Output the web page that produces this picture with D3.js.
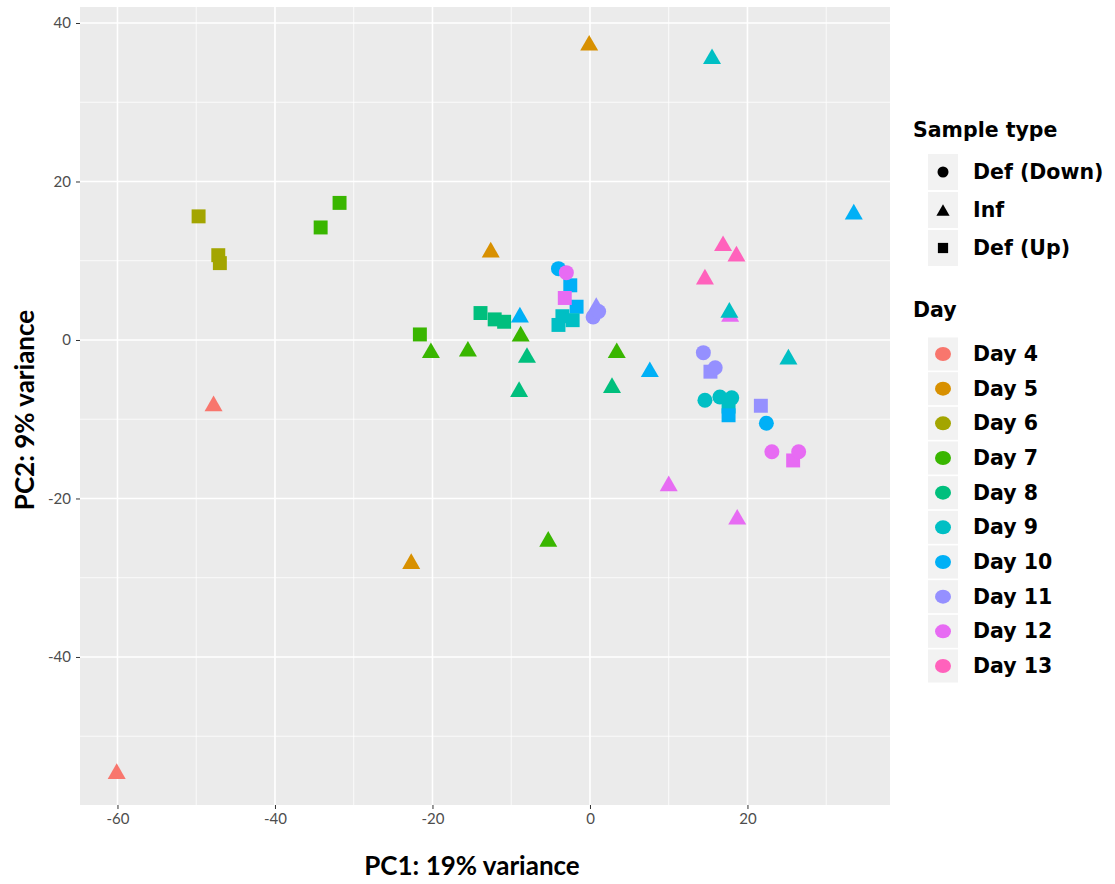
<!DOCTYPE html>
<html lang="en">
<head>
    <meta charset="UTF-8">
    <title>PCA</title>
    <script src="https://cdnjs.cloudflare.com/ajax/libs/d3/7.8.5/d3.min.js"></script>
    <style>
        body {
            margin: 0;
            background: #fff;
        }

        svg .panel {
            fill: #ebebeb;
        }

        svg .grid-major {
            stroke: #fff;
            stroke-width: 1.6px;
        }

        svg .grid-minor {
            stroke: #fff;
            stroke-width: 0.8px;
        }

        svg .axis text {
            font-family: Lato, sans-serif;
            font-size: 15px;
            fill: #4d4d4d;
        }

        svg .axis line {
            stroke: #333;
        }

        svg .axis-title {
            font-family: Lato, sans-serif;
            font-weight: bold;
            font-size: 26px;
            fill: #000;
        }

        svg .legend-title,
        svg .legend-label {
            font-family: "DejaVu Sans", sans-serif;
            font-weight: bold;
            font-size: 20.5px;
            fill: #000;
        }

        svg .legend-key {
            fill: #f2f2f2;
        }
    </style>
</head>
<body>
    <svg width="1115" height="884"></svg>
    <script>
        // PCA scores, one entry per sample
        var pc1 = [17.8, -60.1, -47.8, -0.1, -12.6, -22.7, -49.7, -47.2, -47.0, -31.8, -34.2, -21.6, -20.2, -15.5,
                   -8.8, 3.4, -5.3, -13.9, -12.1, -10.9, -8.0, -9.0, 2.8, 15.5, 17.7, 25.2,
                   14.6, 16.5, 18.0, 17.6, 33.5, -8.9, 7.6, -4.0, -2.5, -1.7, 17.6, 22.4,
                   0.8, 0.4, 1.1, 14.4, 15.3, 15.9, 21.7, -3.0, -3.2, -3.5, -2.2, -4.0, 10.0, 18.7,
                   23.1, 25.8, 26.5, 16.9, 18.6, 14.6];
        var pc2 = [3.3, -54.4, -8.0, 37.5, 11.4, -27.9, 15.6, 10.7, 9.7, 17.3, 14.2, 0.7, -1.3, -1.1,
                   0.8, -1.3, -25.1, 3.4, 2.6, 2.3, -1.9, -6.2, -5.7, 35.8, 3.8, -2.1,
                   -7.6, -7.2, -7.3, -8.4, 16.2, 3.2, -3.7, 9.0, 6.9, 4.2, -9.5, -10.5,
                   4.4, 2.9, 3.6, -1.6, -4.0, -3.5, -8.3, 8.5, 5.3, 3.0, 2.5, 1.9, -18.1, -22.3,
                   -14.1, -15.2, -14.1, 12.2, 10.9, 8.0];
        var day = [12, 4, 4, 5, 5, 5, 6, 6, 6, 7, 7, 7, 7, 7,
                   7, 7, 7, 8, 8, 8, 8, 8, 8, 9, 9, 9,
                   9, 9, 9, 9, 10, 10, 10, 10, 10, 10, 10, 10,
                   11, 11, 11, 11, 11, 11, 11, 12, 12, 9, 9, 9, 12, 12,
                   12, 12, 12, 13, 13, 13];
        var sampleType = ['Inf', 'Inf', 'Inf', 'Inf', 'Inf', 'Inf', 'Def (Up)', 'Def (Up)', 'Def (Up)', 'Def (Up)', 'Def (Up)', 'Def (Up)', 'Inf', 'Inf',
                   'Inf', 'Inf', 'Inf', 'Def (Up)', 'Def (Up)', 'Def (Up)', 'Inf', 'Inf', 'Inf', 'Inf', 'Inf', 'Inf',
                   'Def (Down)', 'Def (Down)', 'Def (Down)', 'Def (Up)', 'Inf', 'Inf', 'Inf', 'Def (Down)', 'Def (Up)', 'Def (Up)', 'Def (Up)', 'Def (Down)',
                   'Inf', 'Def (Down)', 'Def (Down)', 'Def (Down)', 'Def (Up)', 'Def (Down)', 'Def (Up)', 'Def (Down)', 'Def (Up)', 'Def (Up)', 'Def (Up)', 'Def (Up)', 'Inf', 'Inf',
                   'Def (Down)', 'Def (Up)', 'Def (Down)', 'Inf', 'Inf', 'Inf'];

        var typeLevels = ['Def (Down)', 'Inf', 'Def (Up)'];
        var dayLevels = [4, 5, 6, 7, 8, 9, 10, 11, 12, 13];
        var dayColors = ['#F8766D', '#D89000', '#A3A500', '#39B600', '#00BF7D', '#00BFC4', '#00B0F6', '#9590FF', '#E76BF3', '#FF62BC'];
        var majorTicks = [-60, -40, -20, 0, 20, 40];
        var minorTicks = [-70, -50, -30, -10, 10, 30, 50];

        var svg = d3.select('svg'),
            pLeft = 80, pRight = 890, pTop = 7, pBottom = 805;

        var x = d3.scaleLinear().domain([-64.76, 38.1]).range([pLeft, pRight]),
            y = d3.scaleLinear().domain([-58.68, 42.02]).range([pBottom, pTop]),
            color = d3.scaleOrdinal().domain(dayLevels).range(dayColors);

        svg.append('rect')
            .classed('panel', true)
            .attr('x', pLeft)
            .attr('y', pTop)
            .attr('width', pRight - pLeft)
            .attr('height', pBottom - pTop);

        var xIn = function(v) { return x(v) > pLeft && x(v) < pRight; },
            yIn = function(v) { return y(v) > pTop && y(v) < pBottom; };

        svg.selectAll('.gx-minor').data(minorTicks.filter(xIn)).enter().append('line')
            .classed('grid-minor', true)
            .attr('x1', d => x(d)).attr('x2', d => x(d))
            .attr('y1', pTop).attr('y2', pBottom);
        svg.selectAll('.gy-minor').data(minorTicks.filter(yIn)).enter().append('line')
            .classed('grid-minor', true)
            .attr('y1', d => y(d)).attr('y2', d => y(d))
            .attr('x1', pLeft).attr('x2', pRight);
        svg.selectAll('.gx-major').data(majorTicks.filter(xIn)).enter().append('line')
            .classed('grid-major', true)
            .attr('x1', d => x(d)).attr('x2', d => x(d))
            .attr('y1', pTop).attr('y2', pBottom);
        svg.selectAll('.gy-major').data(majorTicks.filter(yIn)).enter().append('line')
            .classed('grid-major', true)
            .attr('y1', d => y(d)).attr('y2', d => y(d))
            .attr('x1', pLeft).attr('x2', pRight);

        // axes
        svg.append('g')
            .classed('axis', true)
            .attr('transform', 'translate(0,' + pBottom + ')')
            .call(d3.axisBottom(x).tickValues(majorTicks.filter(xIn)).tickSize(4).tickPadding(4)
                .tickFormat(d => String(d)));
        svg.append('g')
            .classed('axis', true)
            .attr('transform', 'translate(' + pLeft + ',0)')
            .call(d3.axisLeft(y).tickValues(majorTicks.filter(yIn)).tickSize(4).tickPadding(5)
                .tickFormat(d => String(d)));
        svg.selectAll('.axis .domain').remove();

        svg.append('text')
            .classed('axis-title', true)
            .attr('x', 472)
            .attr('y', 875)
            .attr('text-anchor', 'middle')
            .text('PC1: 19% variance');

        svg.append('text')
            .classed('axis-title', true)
            .attr('transform', 'translate(34,410) rotate(-90)')
            .attr('text-anchor', 'middle')
            .text('PC2: 9% variance');

        // marker shapes
        function shapePath(type, s) {
            if (type === 'Inf') {
                var w = s * 1.2, h = s * 1.04;
                return 'M0,' + (-h / 2) + 'L' + (w / 2) + ',' + (h / 2) + 'L' + (-w / 2) + ',' + (h / 2) + 'Z';
            }
            if (type === 'Def (Up)') {
                var a = s * 0.93 / 2;
                return 'M' + (-a) + ',' + (-a) + 'H' + a + 'V' + a + 'H' + (-a) + 'Z';
            }
            var r = s / 2;
            return 'M' + r + ',0A' + r + ',' + r + ' 0 1,1 ' + (-r) + ',0A' + r + ',' + r + ' 0 1,1 ' + r + ',0Z';
        }

        var points = d3.range(pc1.length);

        svg.selectAll('.pt').data(points).enter().append('path')
            .classed('pt', true)
            .attr('transform', i => 'translate(' + x(pc1[i]) + ',' + y(pc2[i]) + ')')
            .attr('d', i => shapePath(sampleType[i], 15))
            .attr('fill', i => color(day[i]));

        // legend: sample type
        var lg = svg.append('g');
        lg.append('text')
            .classed('legend-title', true)
            .attr('x', 913)
            .attr('y', 137)
            .text('Sample type');

        var typeY = d3.scalePoint().domain(typeLevels).range([172, 248]);
        var typeItems = lg.selectAll('.type-item').data(typeLevels).enter().append('g')
            .attr('transform', d => 'translate(0,' + typeY(d) + ')');
        typeItems.append('rect')
            .classed('legend-key', true)
            .attr('x', 928).attr('y', -18).attr('width', 30).attr('height', 36);
        typeItems.append('path')
            .attr('transform', 'translate(943,0)')
            .attr('d', d => shapePath(d, 11))
            .attr('fill', '#000');
        typeItems.append('text')
            .classed('legend-label', true)
            .attr('x', 973)
            .attr('y', 7)
            .text(d => d);

        // legend: day
        lg.append('text')
            .classed('legend-title', true)
            .attr('x', 913)
            .attr('y', 317)
            .text('Day');

        var dayY = d3.scalePoint().domain(dayLevels).range([354, 666]);
        var dayItems = lg.selectAll('.day-item').data(dayLevels).enter().append('g')
            .attr('transform', d => 'translate(0,' + dayY(d) + ')');
        dayItems.append('rect')
            .classed('legend-key', true)
            .attr('x', 928).attr('y', -16.5).attr('width', 30).attr('height', 33);
        dayItems.append('ellipse')
            .attr('cx', 943).attr('cy', 0).attr('rx', 8).attr('ry', 7)
            .attr('fill', d => color(d));
        dayItems.append('text')
            .classed('legend-label', true)
            .attr('x', 973)
            .attr('y', 7)
            .text(d => 'Day ' + d);
    </script>
</body>
</html>
